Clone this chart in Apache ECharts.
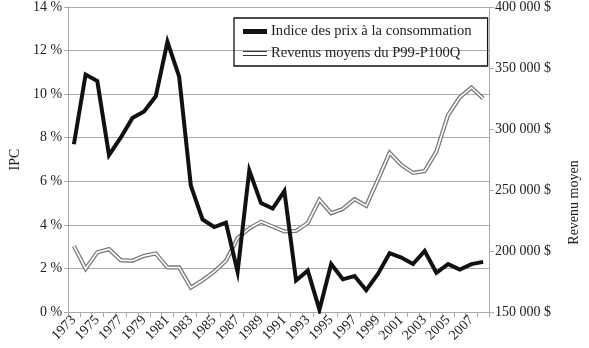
<!DOCTYPE html>
<html>
<head>
<meta charset="utf-8">
<script src="https://cdn.jsdelivr.net/npm/echarts@6/dist/echarts.min.js"></script>
<style>
html,body{margin:0;padding:0;background:#fff;}
#c{width:589px;height:348px;}
</style>
</head>
<body>
<div id="c"></div>
<script>
var years = ['1973','1974','1975','1976','1977','1978','1979','1980','1981','1982','1983','1984','1985','1986','1987','1988','1989','1990','1991','1992','1993','1994','1995','1996','1997','1998','1999','2000','2001','2002','2003','2004','2005','2006','2007','2008'];
var ipc = [7.7,10.9,10.6,7.2,8.0,8.9,9.2,9.9,12.4,10.8,5.8,4.25,3.9,4.1,1.85,6.5,5.0,4.75,5.55,1.45,1.9,0.1,2.2,1.5,1.65,1.0,1.75,2.7,2.5,2.2,2.8,1.8,2.2,1.95,2.2,2.3];
var revenus = [204000,185500,199000,201500,192500,192000,196000,198000,186500,186500,170000,176000,183000,192000,210500,218500,224000,220000,216000,216500,223000,242000,231000,234500,242500,237000,258500,280500,270500,264000,265500,281500,311500,326000,334000,325000];
var ipcTicks = {min:0, max:14, interval:2};
var revTicks = {min:150000, max:400000, interval:50000};
var nameIPC = 'Indice des prix à la consommation';
var nameRev = 'Revenus moyens du P99-P100Q';

var font = 'Liberation Serif';
var txt = '#222';
var gridCol = '#aaa';

var chart = echarts.init(document.getElementById('c'), null, {renderer:'canvas'});
chart.setOption({
  animation:false,
  backgroundColor:'#fff',
  textStyle:{fontFamily:font},
  grid:{left:55, right:92, top:7, bottom:36, containLabel:false},
  legend:{
    orient:'vertical', left:234, top:18,
    padding:[6,16,5,9], itemGap:7,
    itemWidth:24, itemHeight:5,
    borderColor:'#111', borderWidth:1.3,
    textStyle:{fontFamily:font, fontSize:14.6, color:txt, padding:[0,0,0,-1]},
    data:[
      {name:nameIPC, icon:'path://M0,0H24V5H0Z', itemStyle:{color:'#111', borderWidth:0}},
      {name:nameRev, icon:'path://M0,0H24V1H0Z M0,4H24V5H0Z', itemStyle:{color:'#333', borderWidth:0}}
    ]
  },
  xAxis:{
    type:'category', data:years, boundaryGap:true,
    axisLine:{lineStyle:{color:gridCol, width:1}},
    axisTick:{show:true, interval:0, length:5, lineStyle:{color:gridCol}},
    axisLabel:{interval:1, rotate:45, fontFamily:font, fontSize:14, color:txt, margin:6},
    splitLine:{show:false}
  },
  yAxis:[
    {
      type:'value', min:ipcTicks.min, max:ipcTicks.max, interval:ipcTicks.interval,
      name:'IPC', nameLocation:'middle', nameGap:41, nameRotate:90,
      nameTextStyle:{fontFamily:font, fontSize:14, color:txt},
      axisLine:{show:true, lineStyle:{color:gridCol}},
      axisTick:{show:true, length:4, lineStyle:{color:gridCol}},
      axisLabel:{fontFamily:font, fontSize:14, color:txt, margin:6, formatter:'{value} %'},
      splitLine:{show:true, lineStyle:{color:gridCol, width:1}}
    },
    {
      type:'value', position:'right', min:revTicks.min, max:revTicks.max, interval:revTicks.interval,
      name:'Revenu moyen', nameLocation:'middle', nameGap:78, nameRotate:90,
      nameTextStyle:{fontFamily:font, fontSize:14, color:txt, padding:[0,86,0,0]},
      axisLine:{show:true, lineStyle:{color:gridCol}},
      axisTick:{show:true, length:5, lineStyle:{color:gridCol}},
      axisLabel:{fontFamily:font, fontSize:14, color:txt, margin:6,
        formatter:function(v){return String(v).replace(/\B(?=(\d{3})+(?!\d))/g,' ') + ' $';}},
      splitLine:{show:false}
    }
  ],
  series:[
    {
      name:nameRev, type:'line', yAxisIndex:1, data:revenus,
      symbol:'none', silent:true, z:2,
      lineStyle:{color:'#7a7a7a', width:4.2, join:'miter'},
      itemStyle:{color:'#333'}
    },
    {
      name:'revInner', type:'line', yAxisIndex:1, data:revenus,
      symbol:'none', silent:true, z:3,
      lineStyle:{color:'#fff', width:1.6, join:'miter'},
      itemStyle:{color:'#fff'}
    },
    {
      name:nameIPC, type:'line', yAxisIndex:0, data:ipc,
      symbol:'none', silent:true, z:4,
      lineStyle:{color:'#111', width:4, join:'miter'},
      itemStyle:{color:'#111'}
    }
  ]
});
</script>
</body>
</html>
